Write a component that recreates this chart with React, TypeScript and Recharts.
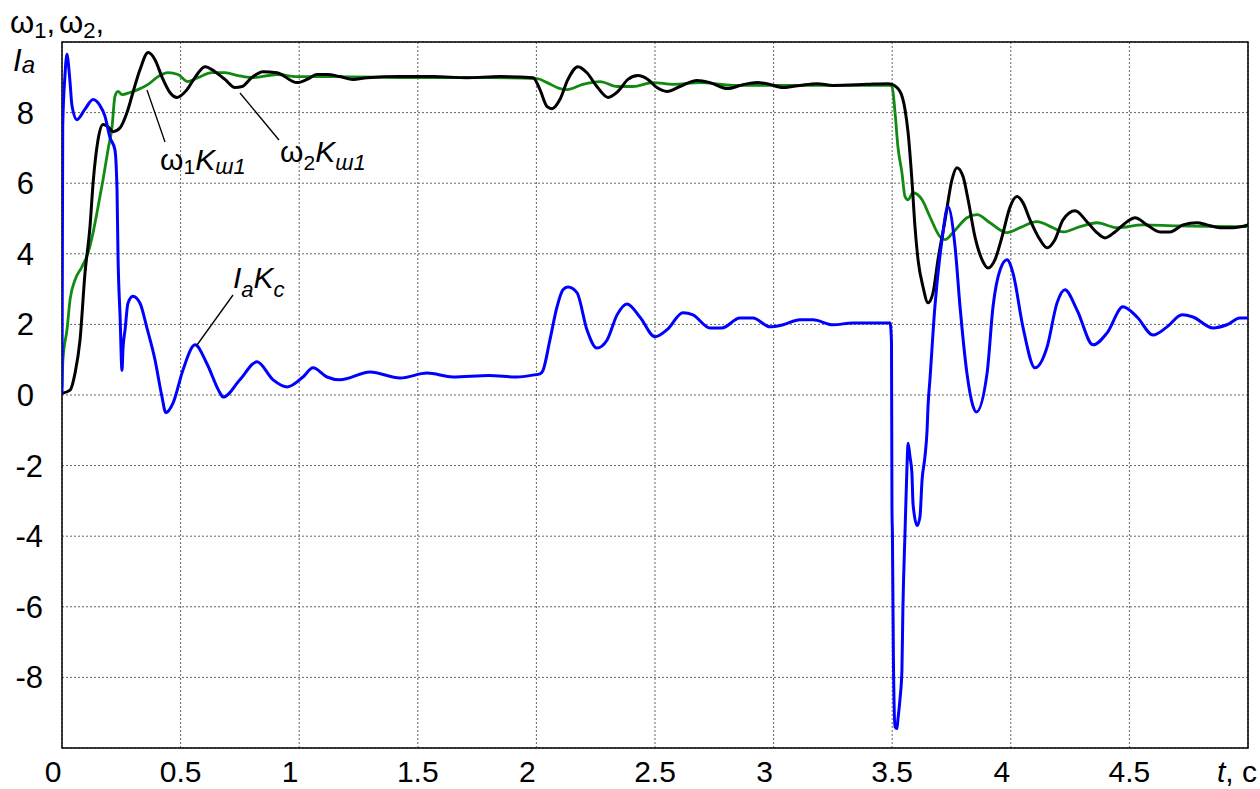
import { LineChart, Line, XAxis, YAxis, CartesianGrid, ReferenceArea } from "recharts";

const xTicks = [0, 0.5, 1, 1.5, 2, 2.5, 3, 3.5, 4, 4.5, 5];
const yTicks = [-8, -6, -4, -2, 0, 2, 4, 6, 8];

// I_a * K_c (blue)
const iaTime = [
  0, 0.003, 0.012, 0.021, 0.025, 0.034, 0.042, 0.063, 0.097, 0.131, 0.16, 0.181, 0.202, 0.223, 0.232,
  0.236, 0.245, 0.253, 0.257, 0.266, 0.278, 0.299, 0.329, 0.358, 0.392, 0.42, 0.438, 0.468, 0.51,
  0.561, 0.61, 0.666, 0.679, 0.75, 0.822, 0.89, 0.95, 1.016, 1.058, 1.117, 1.172, 1.299, 1.425,
  1.539, 1.648, 1.8, 1.918, 1.99, 2.015, 2.028, 2.057, 2.087, 2.112, 2.133, 2.171, 2.213, 2.255,
  2.298, 2.34, 2.382, 2.437, 2.5, 2.551, 2.618, 2.66, 2.732, 2.782, 2.858, 2.913, 2.985, 3.04,
  3.111, 3.166, 3.25, 3.335, 3.491, 3.497, 3.499, 3.501, 3.505, 3.512, 3.52, 3.524, 3.533, 3.541,
  3.545, 3.554, 3.562, 3.567, 3.575, 3.583, 3.588, 3.605, 3.617, 3.626, 3.638, 3.647, 3.651, 3.659,
  3.68, 3.71, 3.735, 3.765, 3.786, 3.815, 3.84, 3.855, 3.9, 3.925, 3.955, 3.984, 4.009, 4.051,
  4.102, 4.153, 4.195, 4.228, 4.279, 4.347, 4.406, 4.473, 4.532, 4.6, 4.659, 4.722, 4.768, 4.852,
  4.911, 4.966, 5.0,
];
const iaValue = [
  0.05, 7.6, 9.0, 9.65, 9.5, 8.85, 8.2, 7.8, 8.1, 8.37, 8.2, 7.9, 7.3, 6.95, 5.8,
  4.0, 2.2, 0.7, 1.3, 1.85, 2.6, 2.8, 2.6, 1.9, 1.0, 0.0, -0.5, -0.23, 0.71,
  1.42, 0.9, 0.06, -0.06, 0.43, 0.94, 0.43, 0.23, 0.51, 0.77, 0.51, 0.43, 0.65, 0.48,
  0.62, 0.51, 0.55, 0.51, 0.57, 0.6, 0.7, 1.56, 2.5, 2.98, 3.06, 2.9, 1.85, 1.33,
  1.56, 2.27, 2.58, 2.2, 1.65, 1.85, 2.33, 2.27, 1.9, 1.9, 2.18, 2.18, 1.93, 1.99,
  2.13, 2.13, 1.99, 2.04, 2.04, 1.5, -3.2, -4.0, -7.4, -9.4, -9.45, -9.2, -8.6, -7.8,
  -6.1, -3.9, -2.1, -1.37, -1.75, -2.2, -3.1, -3.7, -3.45, -2.4, -1.75, -1.0, -0.33, 0.43,
  2.5, 4.4, 5.33, 4.2, 2.5, 0.62, -0.3, -0.48, 0.62, 2.5, 3.55, 3.83, 3.46, 1.93,
  0.77, 1.36, 2.61, 2.98, 2.41, 1.42, 1.76, 2.5, 2.21, 1.7, 1.93, 2.27, 2.21, 1.9,
  1.99, 2.18, 2.18,
];

// omega1 * K_w1 (black)
const w1Time = [
  0, 0.034, 0.055, 0.076, 0.097, 0.118, 0.131, 0.152, 0.173, 0.194, 0.215, 0.245, 0.274, 0.299,
  0.329, 0.363, 0.392, 0.422, 0.455, 0.485, 0.527, 0.561, 0.603, 0.645, 0.687, 0.729, 0.759, 0.801,
  0.847, 0.906, 0.991, 1.033, 1.075, 1.117, 1.172, 1.227, 1.286, 1.425, 1.564, 1.707, 1.847, 1.986,
  2.015, 2.045, 2.066, 2.099, 2.133, 2.175, 2.213, 2.255, 2.302, 2.344, 2.386, 2.428, 2.47, 2.508,
  2.551, 2.605, 2.677, 2.732, 2.804, 2.871, 2.93, 2.972, 3.04, 3.111, 3.183, 3.25, 3.394, 3.482,
  3.499, 3.533, 3.554, 3.567, 3.583, 3.596, 3.609, 3.63, 3.651, 3.672, 3.693, 3.723, 3.752, 3.773,
  3.799, 3.82, 3.849, 3.879, 3.904, 3.933, 3.963, 3.997, 4.026, 4.051, 4.081, 4.123, 4.153, 4.186,
  4.22, 4.271, 4.321, 4.363, 4.397, 4.439, 4.49, 4.524, 4.574, 4.629, 4.671, 4.726, 4.785, 4.827,
  4.882, 4.937, 5.0,
];
const w1Value = [
  0.05, 0.14, 0.62, 1.56, 3.46, 4.77, 6.0, 7.23, 7.66, 7.6, 7.46, 7.57, 8.0, 8.57,
  9.22, 9.7, 9.5, 9.0, 8.57, 8.43, 8.65, 9.0, 9.3, 9.16, 8.94, 8.71, 8.74, 9.0,
  9.16, 9.13, 8.85, 8.94, 9.08, 9.08, 9.02, 8.94, 8.99, 9.02, 9.02, 8.99, 9.02, 8.99,
  8.65, 8.17, 8.11, 8.37, 8.94, 9.3, 9.13, 8.74, 8.43, 8.6, 8.94, 9.05, 8.94, 8.71,
  8.6, 8.74, 8.91, 8.85, 8.68, 8.79, 8.85, 8.82, 8.71, 8.77, 8.82, 8.77, 8.8, 8.82,
  8.8, 8.6, 8.09, 7.43, 6.1, 4.77, 3.83, 3.06, 2.61, 2.89, 3.83, 4.96, 6.1, 6.44,
  6.18, 5.53, 4.48, 3.83, 3.6, 3.83, 4.48, 5.33, 5.62, 5.45, 4.96, 4.4, 4.17, 4.4,
  4.96, 5.22, 4.91, 4.6, 4.45, 4.62, 4.91, 5.02, 4.82, 4.62, 4.62, 4.82, 4.88, 4.82,
  4.74, 4.74, 4.82,
];

// omega2 * K_w1 (green)
const w2Time = [
  0, 0.004, 0.021, 0.034, 0.055, 0.084, 0.11, 0.131, 0.152, 0.173, 0.194, 0.211, 0.223, 0.236,
  0.253, 0.287, 0.32, 0.363, 0.405, 0.447, 0.489, 0.531, 0.573, 0.632, 0.687, 0.742, 0.801, 0.906,
  0.991, 1.142, 1.5, 1.8, 2.003, 2.045, 2.099, 2.129, 2.196, 2.268, 2.34, 2.407, 2.492, 2.576,
  2.69, 2.829, 3.25, 3.491, 3.499, 3.512, 3.524, 3.541, 3.554, 3.567, 3.588, 3.626, 3.659, 3.702,
  3.723, 3.756, 3.815, 3.858, 3.912, 3.984, 4.039, 4.11, 4.178, 4.22, 4.292, 4.363, 4.448, 4.557,
  4.701, 5.0,
];
const w2Value = [
  0.23, 1.0, 1.85, 2.7, 3.26, 3.63, 4.03, 4.6, 5.33, 6.1, 6.95, 7.6, 8.45, 8.6,
  8.51, 8.57, 8.65, 8.8, 9.02, 9.13, 9.08, 8.88, 8.99, 9.13, 9.13, 9.05, 8.99, 9.08,
  9.02, 9.02, 8.99, 8.99, 8.96, 8.85, 8.68, 8.65, 8.8, 8.88, 8.74, 8.74, 8.85, 8.8,
  8.85, 8.77, 8.77, 8.77, 8.74, 8.0, 7.04, 6.3, 5.62, 5.53, 5.73, 5.53, 5.05, 4.48,
  4.4, 4.6, 5.02, 5.11, 4.88, 4.6, 4.74, 4.91, 4.74, 4.62, 4.77, 4.88, 4.74, 4.82,
  4.79, 4.77,
];

const zip = (t: number[], v: number[]) => t.map((x, i) => ({ t: x, v: v[i] }));

const iaData = zip(iaTime, iaValue);
const w1Data = zip(w1Time, w1Value);
const w2Data = zip(w2Time, w2Value);

const FONT = "'Liberation Sans', Arial, sans-serif";

function XTick(props: any) {
  const { x, payload } = props;
  const v = payload.value as number;
  if (v === 5) {
    return (
      <text x={1217} y={782} fontSize={30} fontFamily={FONT} fill="#000">
        <tspan fontStyle="italic">t</tspan>, c
      </text>
    );
  }
  const shift = Number.isInteger(v) ? -9 : 0;
  return (
    <text x={x + shift} y={782} fontSize={30} fontFamily={FONT} fill="#000" textAnchor="middle">
      {String(v)}
    </text>
  );
}

function YTick(props: any) {
  const { y, payload } = props;
  const v = payload.value as number;
  return (
    <text x={v < 0 ? 43 : 34} y={y + 11} fontSize={31} fontFamily={FONT} fill="#000" textAnchor="end">
      {String(v)}
    </text>
  );
}

export default function App() {
  return (
    <div style={{ position: "absolute", left: 0, top: 0, width: 1260, height: 789, background: "#fff" }}>
      <LineChart width={1260} height={789} margin={{ top: 42, right: 12, left: 0, bottom: 0 }}>
        <CartesianGrid stroke="#666" strokeDasharray="2 2" strokeWidth={1} />
        <XAxis
          dataKey="t"
          type="number"
          domain={[0, 5]}
          ticks={xTicks}
          height={41}
          tickLine={false}
          axisLine={false}
          tick={<XTick />}
          interval={0}
          allowDataOverflow
        />
        <YAxis
          type="number"
          domain={[-10, 10]}
          ticks={yTicks}
          width={62}
          tickLine={false}
          axisLine={false}
          tick={<YTick />}
          interval={0}
          allowDataOverflow
        />
        <ReferenceArea x1={0} x2={5} y1={-10} y2={10} fill="none" fillOpacity={0} stroke="#000" strokeWidth={1.5} />
        <Line data={w2Data} dataKey="v" type="monotone" dot={false} stroke="#118a11" strokeWidth={2.8} isAnimationActive={false} />
        <Line data={w1Data} dataKey="v" type="monotone" dot={false} stroke="#000000" strokeWidth={3} isAnimationActive={false} />
        <Line data={iaData} dataKey="v" type="monotone" dot={false} stroke="#0000ff" strokeWidth={3} isAnimationActive={false} />
      </LineChart>
      <svg
        width={1260}
        height={789}
        style={{ position: "absolute", left: 0, top: 0, pointerEvents: "none" }}
        fontFamily={FONT}
      >
        <text x={10} y={33} fontSize={31} fill="#000">
          ω<tspan fontSize={22} dy={5}>1</tspan>
          <tspan dy={-5}>,</tspan>
          <tspan dx={4}>ω</tspan>
          <tspan fontSize={22} dy={5}>2</tspan>
          <tspan dy={-5}>,</tspan>
        </text>
        <text x={13} y={71} fontSize={31} fill="#000" fontStyle="italic">
          I<tspan fontSize={24} dy={2}>a</tspan>
        </text>

        <line x1={147} y1={90} x2={165} y2={142} stroke="#000" strokeWidth={1.3} />
        <line x1={240} y1={93} x2={279} y2={140} stroke="#000" strokeWidth={1.3} />
        <line x1={197} y1={345} x2={233} y2={295} stroke="#000" strokeWidth={1.3} />

        <text x={160} y={170} fontSize={30} fill="#000">
          ω<tspan fontSize={21} dy={4}>1</tspan>
          <tspan fontStyle="italic" dy={-4}>K</tspan>
          <tspan fontStyle="italic" fontSize={22} dy={4}>ш1</tspan>
        </text>
        <text x={280} y={162} fontSize={30} fill="#000">
          ω<tspan fontSize={21} dy={8}>2</tspan>
          <tspan fontStyle="italic" dy={-8}>K</tspan>
          <tspan fontStyle="italic" fontSize={22} dy={8}>ш1</tspan>
        </text>
        <text x={233} y={288} fontSize={30} fill="#000" fontStyle="italic">
          I<tspan fontSize={22} dy={9}>a</tspan>
          <tspan dy={-9}>K</tspan>
          <tspan fontSize={22} dy={9}>c</tspan>
        </text>
      </svg>
    </div>
  );
}
